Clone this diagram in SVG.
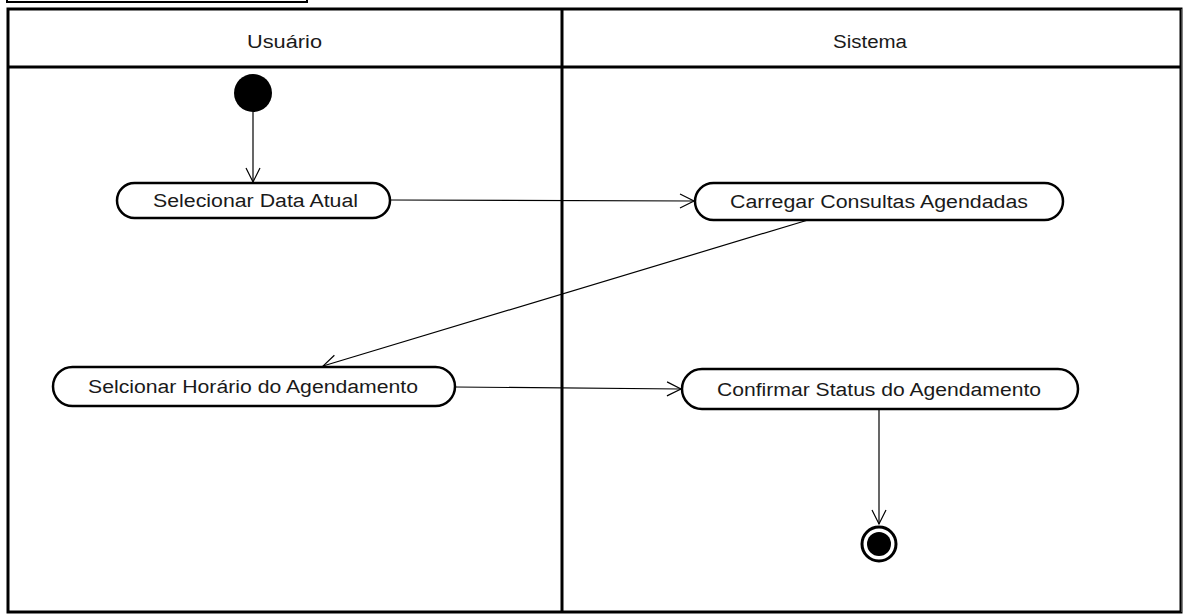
<svg xmlns="http://www.w3.org/2000/svg" width="1183" height="615" viewBox="0 0 1183 615">
<style>
.lane{fill:none;stroke:#000;stroke-width:3}
.node{fill:#fff;stroke:#000;stroke-width:2.5}
.t{font-family:"Liberation Sans",Arial,sans-serif;font-size:18px;fill:#1a1a1a}
.c{fill:none;stroke:#000;stroke-width:1.2;marker-end:url(#a)}
</style>
<defs>
<marker id="a" markerWidth="20" markerHeight="20" refX="15" refY="8" orient="auto" markerUnits="userSpaceOnUse">
<path d="M1,1 L15,8 L1,15" fill="none" stroke="#000" stroke-width="1.2"/>
</marker>
</defs>
<rect width="1183" height="615" fill="#fff"/>
<g id="frame">
<rect x="7" y="-10" width="300" height="12" fill="none" stroke="#000" stroke-width="2"/>
<rect x="8" y="9" width="1173" height="603" class="lane"/>
<line x1="8" y1="67" x2="1181" y2="67" class="lane"/>
<line x1="562" y1="9" x2="562" y2="612" class="lane"/>
<line x1="1182" y1="9" x2="1182" y2="612" stroke="#888" stroke-width="1"/>
<text x="247" y="48" class="t" textLength="75" lengthAdjust="spacingAndGlyphs">Usuário</text>
<text x="833" y="48" class="t" textLength="74" lengthAdjust="spacingAndGlyphs">Sistema</text>
</g>
<g id="connectors">
<line x1="253" y1="112" x2="253" y2="182" class="c"/>
<line x1="390" y1="200" x2="694" y2="201" class="c"/>
<line x1="808" y1="220" x2="323" y2="366" class="c"/>
<line x1="455" y1="387" x2="681" y2="389" class="c"/>
<line x1="879" y1="409" x2="879" y2="524" class="c"/>
</g>
<g id="start"><circle cx="253" cy="93" r="19" fill="#000"/></g>
<g id="n1"><rect x="117" y="183" width="273" height="35" rx="17.5" class="node"/><text x="153" y="207" class="t" textLength="205" lengthAdjust="spacingAndGlyphs">Selecionar Data Atual</text></g>
<g id="n2"><rect x="695" y="183" width="368" height="37" rx="18.5" class="node"/><text x="730" y="208" class="t" textLength="298" lengthAdjust="spacingAndGlyphs">Carregar Consultas Agendadas</text></g>
<g id="n3"><rect x="53" y="367" width="402" height="39" rx="19.5" class="node"/><text x="88" y="393" class="t" textLength="330" lengthAdjust="spacingAndGlyphs">Selcionar Horário do Agendamento</text></g>
<g id="n4"><rect x="682" y="369" width="396" height="40" rx="20" class="node"/><text x="717" y="396" class="t" textLength="324" lengthAdjust="spacingAndGlyphs">Confirmar Status do Agendamento</text></g>
<g id="end"><circle cx="879" cy="544" r="17" fill="#fff" stroke="#000" stroke-width="3"/><circle cx="879" cy="544" r="12" fill="#000"/></g>
</svg>
